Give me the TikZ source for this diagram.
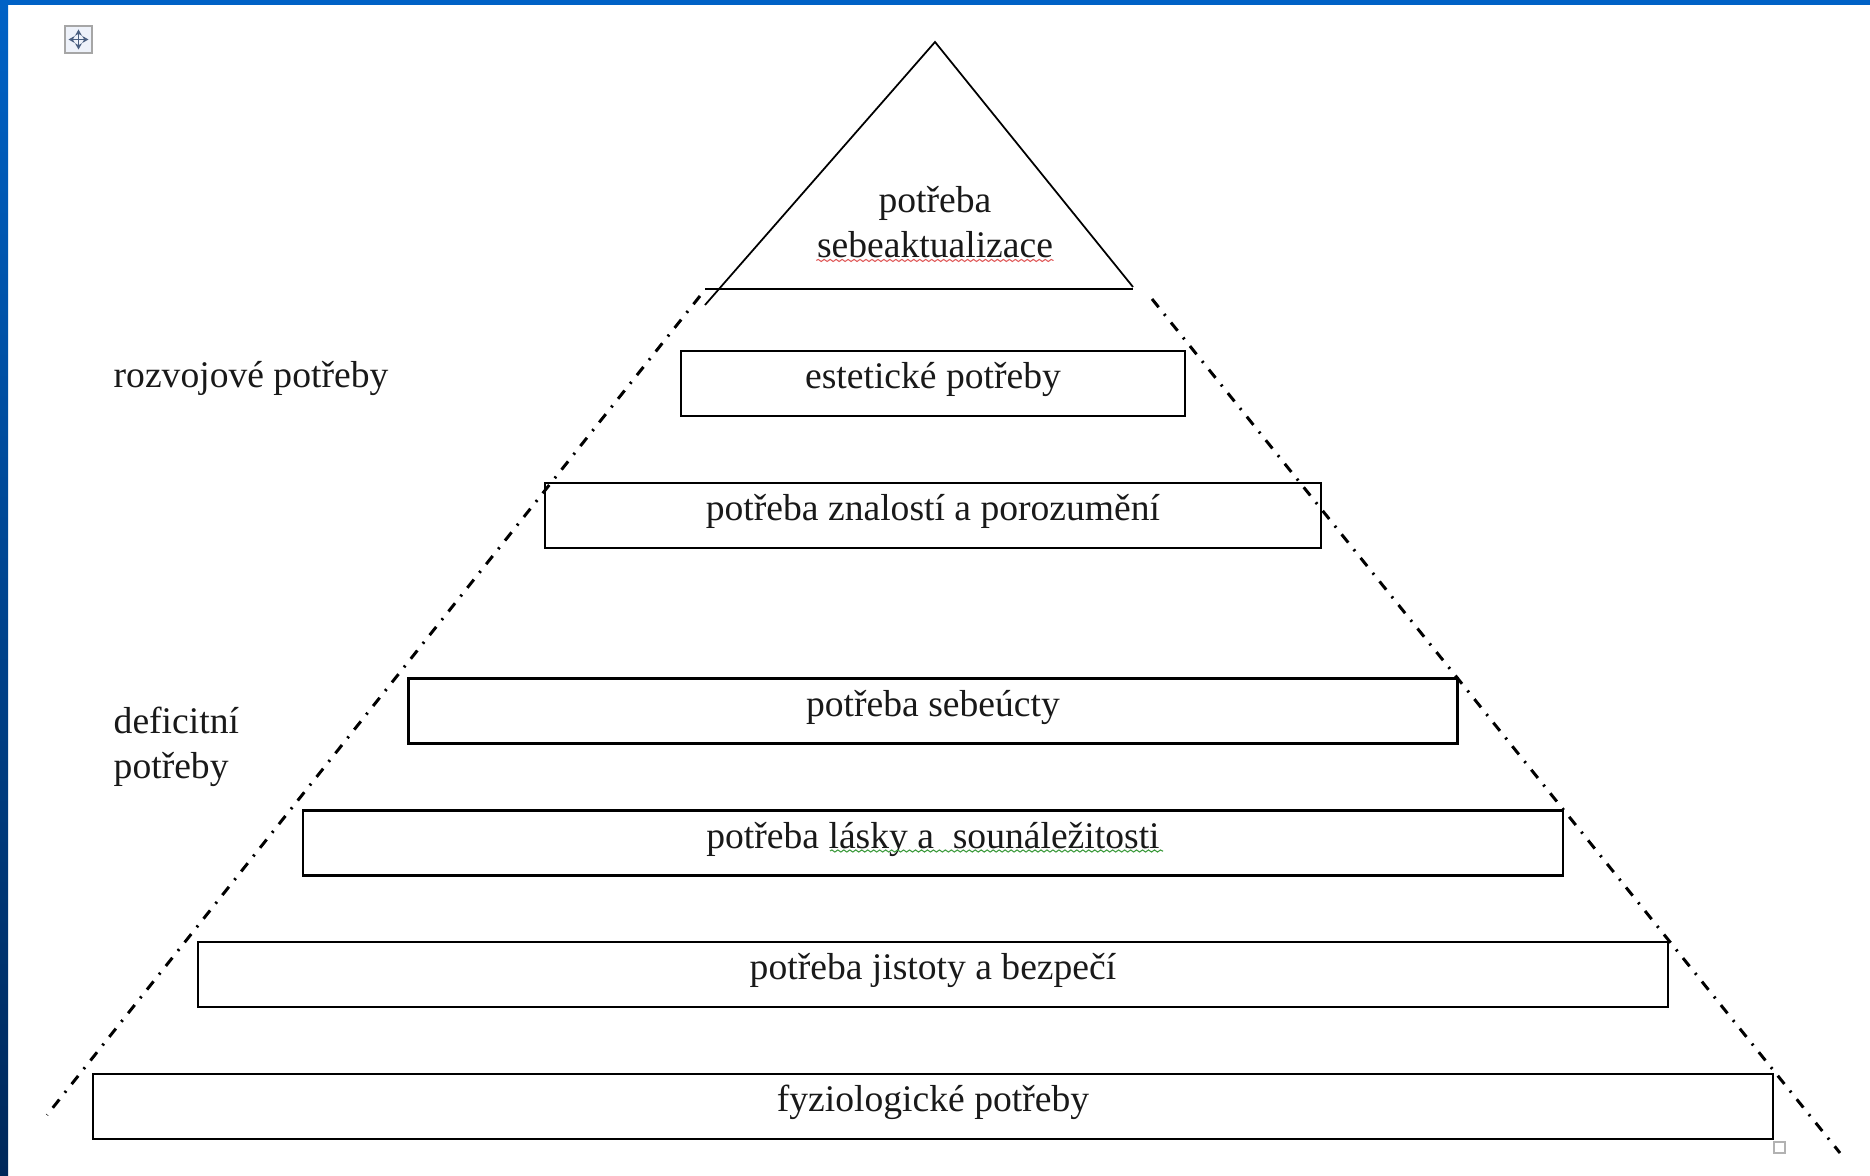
\documentclass[tikz,border=0pt]{standalone}
\usepackage{fontspec}
\setmainfont{Liberation Serif}
\usepackage{xcolor}
\usetikzlibrary{arrows.meta, positioning, decorations.pathmorphing}

\definecolor{slideblue}{HTML}{0062C6}
\definecolor{slidenavy}{HTML}{00285A}
\definecolor{wavered}{HTML}{E05A5A}
\definecolor{wavegreen}{HTML}{3C9A3C}
\definecolor{iconblue}{HTML}{4A5F80}
\definecolor{iconbg}{HTML}{EEF2FA}

\tikzset{
  needtext/.style={font=\fontsize{10.7pt}{12.8pt}\selectfont, inner sep=0pt, text=black!90},
  needbox/.style={needtext, draw=black, line width=0.6pt, minimum height=0.65cm,
    text height=0.75em, text depth=0.45em},
  edgeline/.style={line width=0.85pt, dash pattern=on 3pt off 2.5pt on 0.6pt off 2.5pt},
  spellwave/.style={decorate, decoration={snake, amplitude=0.3pt, segment length=1.7pt},
    line width=0.3pt},
}

\begin{document}
\begin{tikzpicture}
\useasboundingbox (0,0) rectangle (18.70,-11.76);

\fill[slideblue] (0,0) rectangle (18.70,-0.05);
\shade[top color=slideblue, bottom color=slidenavy] (0,0) rectangle (0.08,-11.76);

\node[draw=gray!70, fill=iconbg, minimum size=0.27cm, inner sep=0pt, line width=0.4pt] (moveicon) at (0.785,-0.395) {};
\draw[iconblue, line width=0.5pt, {Stealth[length=1.8pt,width=2pt]}-{Stealth[length=1.8pt,width=2pt]}]
  ([xshift=-0.1cm]moveicon.center) -- ([xshift=0.1cm]moveicon.center);
\draw[iconblue, line width=0.5pt, {Stealth[length=1.8pt,width=2pt]}-{Stealth[length=1.8pt,width=2pt]}]
  ([yshift=-0.1cm]moveicon.center) -- ([yshift=0.1cm]moveicon.center);

\coordinate (apex) at (9.35,-0.42);
\coordinate (tipL) at (7.05,-3.05);
\coordinate (tipR) at (11.33,-2.87);
\coordinate (baseL) at (7.05,-2.89);
\coordinate (baseR) at (11.33,-2.89);
\draw[line width=0.5pt] (tipL) -- (apex) -- (tipR);
\draw[line width=0.6pt] (baseL) -- (baseR);

\node[needtext, align=center] (selfact) at (9.35,-2.22) {potřeba\\sebeaktualizace};
\draw[wavered, spellwave] ([yshift=-0.02cm]selfact.south west) -- ([yshift=-0.02cm]selfact.south east);

\coordinate (dlTop) at (7.00,-2.96);
\coordinate (dlBot) at (0.47,-11.15);
\coordinate (drTop) at (11.52,-2.99);
\coordinate (drBot) at (18.40,-11.53);
\draw[edgeline] (dlTop) -- (dlBot);
\draw[edgeline] (drTop) -- (drBot);

\node[needbox, minimum width=5.04cm] (aesthetic) at (9.33,-3.835) {estetické potřeby};
\node[needbox, minimum width=7.76cm] (knowledge) at (9.33,-5.155) {potřeba znalostí a porozumění};
\node[needbox, minimum width=10.49cm] (esteem) at (9.33,-7.11) {potřeba sebeúcty};
\node[needbox, minimum width=12.60cm] (belonging) at (9.33,-8.43) {potřeba lásky a~ sounáležitosti};
\node[needbox, minimum width=14.70cm] (safety) at (9.33,-9.745) {potřeba jistoty a bezpečí};
\node[needbox, minimum width=16.80cm] (physio) at (9.33,-11.065) {fyziologické potřeby};

\draw[wavegreen, spellwave] (8.30,-8.51) -- (11.63,-8.51);

\node[draw=gray!60, minimum size=0.11cm, inner sep=0pt, line width=0.4pt] (handle) at (17.795,-11.475) {};

\node[needtext, anchor=west] (growth) at (1.13,-3.785) {rozvojové potřeby};
\node[needtext, anchor=west, align=left] (deficit) at (1.13,-7.47) {deficitní\\potřeby};
\end{tikzpicture}
\end{document}
